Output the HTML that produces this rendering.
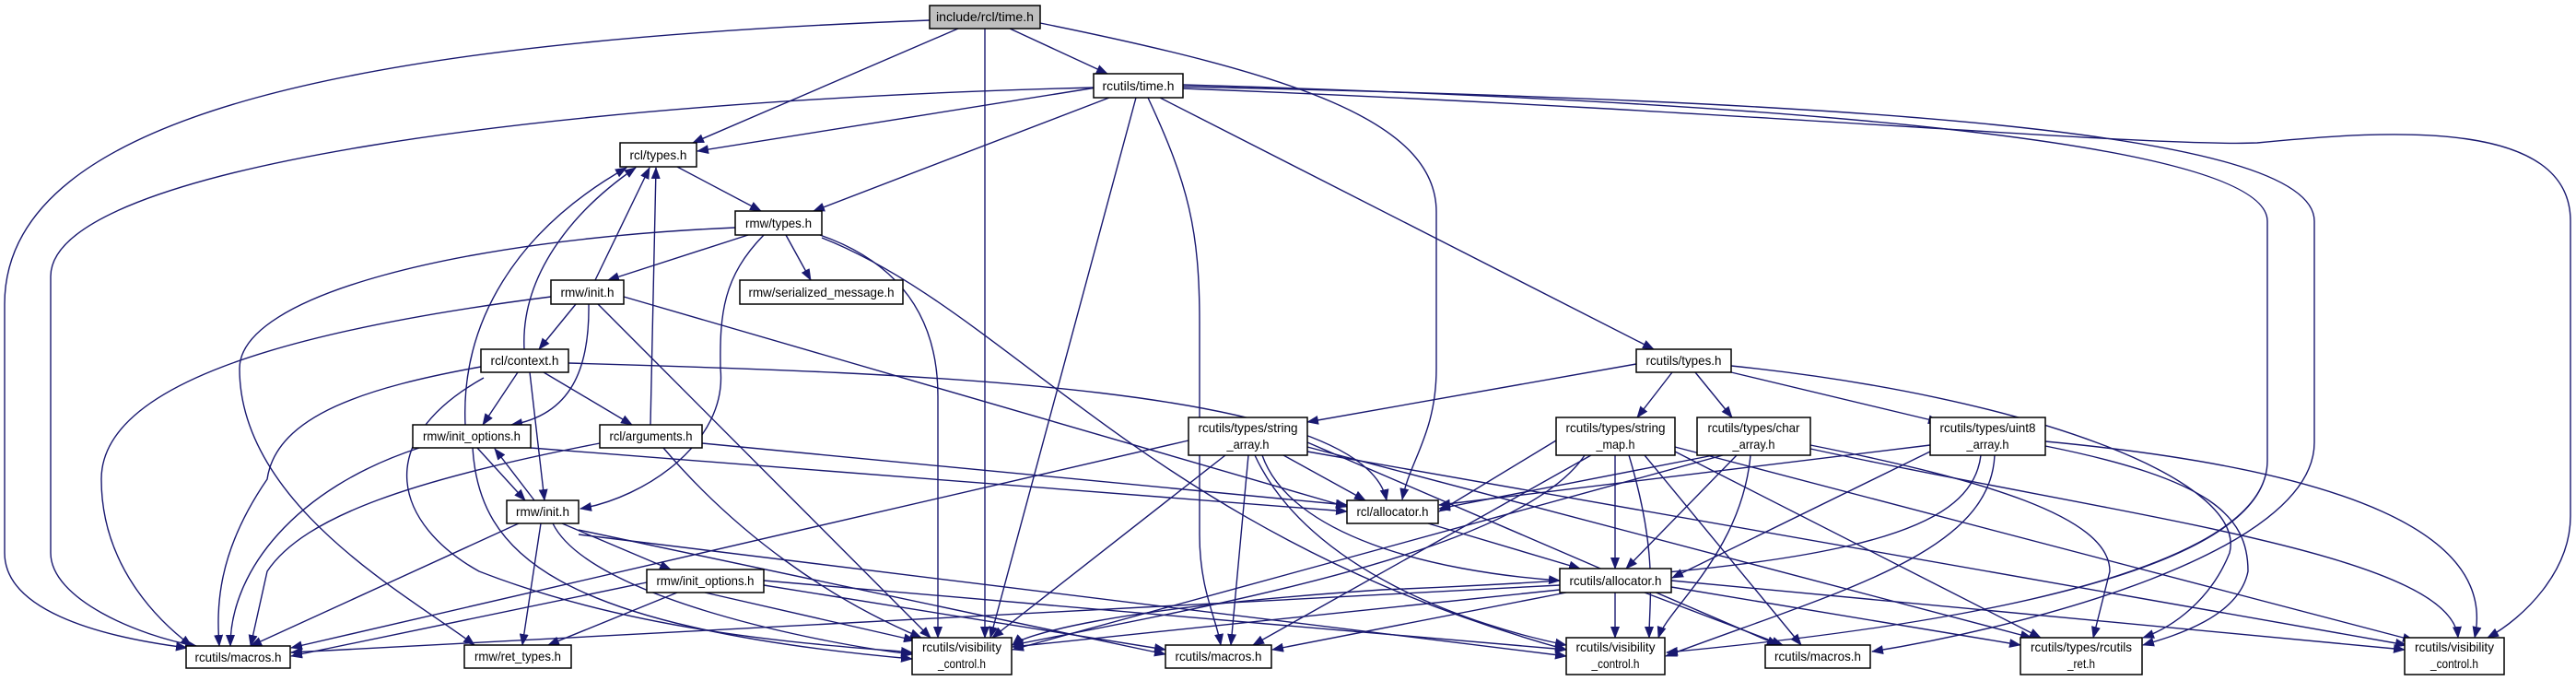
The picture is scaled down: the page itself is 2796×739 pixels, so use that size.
<!DOCTYPE html>
<html><head><meta charset="utf-8"><style>
html,body{margin:0;padding:0;background:#fff;}
svg{display:block;}
text{font-family:"Liberation Sans",sans-serif;font-size:14px;fill:#000;}
.e{fill:none;stroke:#191970;stroke-width:1.4;marker-end:url(#a);}
.n{fill:#fff;stroke:#000;stroke-width:1.5;}
</style></head><body>
<svg width="2796" height="739" viewBox="0 0 2796 739" xmlns="http://www.w3.org/2000/svg">
<defs><marker id="a" markerWidth="13" markerHeight="10" refX="12" refY="5" orient="auto" markerUnits="userSpaceOnUse"><path d="M0,0 L13,5 L0,10z" fill="#191970"/></marker></defs>
<g>
<path class="e" d="M1009,22 C400,45 5,120 5,330 L5,600 C5,660 100,690 203,703"/>
<path class="e" d="M1040,31 L752,155"/>
<path class="e" d="M1069,31 L1069,692"/>
<path class="e" d="M1096,31 L1202,80"/>
<path class="e" d="M1129,25 C1400,80 1559,130 1559,230 L1559,400 C1559,470 1530,500 1522,542"/>
<path class="e" d="M1187,95 C600,110 55,180 55,300 L55,600 C55,650 150,690 213,701"/>
<path class="e" d="M1190,95 L757,164"/>
<path class="e" d="M1204,106 L883,229"/>
<path class="e" d="M1233,106 L1075,692"/>
<path class="e" d="M1246,106 C1290,200 1302,250 1302,350 L1302,580 C1302,640 1320,670 1325,700"/>
<path class="e" d="M1259,106 L1795,379"/>
<path class="e" d="M1284,92 C1900,110 2461,150 2461,240 L2461,500 C2461,640 2000,690 1809,708"/>
<path class="e" d="M1284,94 C2000,110 2512,140 2512,240 L2512,480 C2512,600 2200,680 2032,707"/>
<path class="e" d="M1284,96 C1900,120 2330,160 2450,155 C2600,140 2790,130 2790,240 L2790,560 C2790,620 2740,670 2700,692"/>
<path class="e" d="M735,181 L826,229"/>
<path class="e" d="M812,255 L660,304"/>
<path class="e" d="M853,255 L880,304"/>
<path class="e" d="M798,247 C500,260 260,320 260,400 C260,550 450,650 515,700"/>
<path class="e" d="M829,255 C785,300 781,340 782,400 C790,480 700,540 630,552"/>
<path class="e" d="M890,255 C990,290 1018,360 1018,430 L1018,692"/>
<path class="e" d="M892,258 C1100,340 1250,580 1700,705"/>
<path class="e" d="M646,304 L705,182"/>
<path class="e" d="M625,330 L585,379"/>
<path class="e" d="M639,330 C640,400 620,450 555,461"/>
<path class="e" d="M598,322 C300,360 110,420 110,520 C110,620 180,680 208,701"/>
<path class="e" d="M677,322 L1462,550"/>
<path class="e" d="M649,330 L1010,692"/>
<path class="e" d="M569,379 C565,300 620,230 690,182"/>
<path class="e" d="M562,404 L524,461"/>
<path class="e" d="M575,404 L591,543"/>
<path class="e" d="M590,404 L686,461"/>
<path class="e" d="M522,398 C400,420 300,450 290,520 C235,600 235,660 238,701"/>
<path class="e" d="M525,410 C400,480 430,570 520,620 C700,690 900,700 990,708"/>
<path class="e" d="M617,394 C1000,405 1480,420 1505,543"/>
<path class="e" d="M505,461 C500,350 560,250 680,182"/>
<path class="e" d="M518,486 L570,543"/>
<path class="e" d="M455,486 C320,530 250,620 250,701"/>
<path class="e" d="M576,486 L1462,555"/>
<path class="e" d="M513,486 C520,600 600,680 990,715"/>
<path class="e" d="M706,461 L712,182"/>
<path class="e" d="M762,481 L1462,548"/>
<path class="e" d="M720,486 C800,580 900,650 1000,692"/>
<path class="e" d="M651,481 C450,520 330,560 290,620 L272,701"/>
<path class="e" d="M580,543 L537,487"/>
<path class="e" d="M610,568 L728,618"/>
<path class="e" d="M563,568 L272,701"/>
<path class="e" d="M587,568 L567,700"/>
<path class="e" d="M600,568 C640,650 900,700 990,710"/>
<path class="e" d="M628,575 L1265,710"/>
<path class="e" d="M628,580 L1700,712"/>
<path class="e" d="M702,632 L316,712"/>
<path class="e" d="M735,643 L595,700"/>
<path class="e" d="M765,643 L993,695"/>
<path class="e" d="M829,635 L1265,705"/>
<path class="e" d="M829,630 L1700,705"/>
<path class="e" d="M1776,395 L1419,458"/>
<path class="e" d="M1815,404 L1777,453"/>
<path class="e" d="M1840,404 L1880,453"/>
<path class="e" d="M1879,404 L2105,458"/>
<path class="e" d="M1879,397 C2200,430 2440,520 2420,600 C2400,650 2360,680 2326,692"/>
<path class="e" d="M1290,478 L316,703"/>
<path class="e" d="M1330,494 L1077,692"/>
<path class="e" d="M1355,494 L1336,700"/>
<path class="e" d="M1393,494 L1482,543"/>
<path class="e" d="M1370,494 C1400,580 1550,620 1693,630"/>
<path class="e" d="M1362,494 C1420,620 1600,680 1700,700"/>
<path class="e" d="M1419,480 L1930,700"/>
<path class="e" d="M1419,485 L2205,692"/>
<path class="e" d="M1419,490 L2612,700"/>
<path class="e" d="M1689,478 L1562,555"/>
<path class="e" d="M1753,494 L1753,617"/>
<path class="e" d="M1720,494 C1650,600 1300,660 1099,700"/>
<path class="e" d="M1727,494 L1360,700"/>
<path class="e" d="M1768,494 C1800,600 1790,650 1790,692"/>
<path class="e" d="M1785,494 L1955,700"/>
<path class="e" d="M1818,490 L2215,692"/>
<path class="e" d="M1818,485 L2620,695"/>
<path class="e" d="M1860,494 L1562,552"/>
<path class="e" d="M1885,494 L1765,617"/>
<path class="e" d="M1870,494 L1099,705"/>
<path class="e" d="M1900,494 C1890,600 1810,660 1800,692"/>
<path class="e" d="M1965,483 C2150,520 2290,560 2290,620 L2272,692"/>
<path class="e" d="M1965,487 C2300,560 2660,600 2668,692"/>
<path class="e" d="M2095,483 L1562,548"/>
<path class="e" d="M2095,490 L1815,627"/>
<path class="e" d="M2150,494 C2140,580 2000,620 1500,640 C1200,660 1110,690 1099,700"/>
<path class="e" d="M2165,494 C2160,600 2000,640 1808,712"/>
<path class="e" d="M2220,484 C2400,520 2440,560 2440,620 C2430,670 2360,690 2326,700"/>
<path class="e" d="M2220,479 C2550,510 2710,580 2686,692"/>
<path class="e" d="M1550,568 L1715,617"/>
<path class="e" d="M1693,635 L316,708"/>
<path class="e" d="M1693,640 L1099,702"/>
<path class="e" d="M1700,643 L1381,705"/>
<path class="e" d="M1753,643 L1753,692"/>
<path class="e" d="M1785,643 L1935,700"/>
<path class="e" d="M1814,637 L2193,700"/>
<path class="e" d="M1814,630 L2610,705"/>
</g>
<g>
<rect x="1009" y="6" width="120" height="25" fill="#bfbfbf" stroke="#000" stroke-width="1.5"/>
<text x="1069" y="23" text-anchor="middle" textLength="106" lengthAdjust="spacingAndGlyphs">include/rcl/time.h</text>
<rect class="n" x="1187" y="80" width="97" height="26"/><text x="1235.5" y="98" text-anchor="middle" textLength="78" lengthAdjust="spacingAndGlyphs">rcutils/time.h</text>
<rect class="n" x="673" y="155" width="83" height="26"/><text x="714.5" y="173" text-anchor="middle" textLength="62" lengthAdjust="spacingAndGlyphs">rcl/types.h</text>
<rect class="n" x="798" y="229" width="94" height="26"/><text x="845" y="247" text-anchor="middle" textLength="72" lengthAdjust="spacingAndGlyphs">rmw/types.h</text>
<rect class="n" x="598" y="304" width="79" height="26"/><text x="637.5" y="322" text-anchor="middle" textLength="58" lengthAdjust="spacingAndGlyphs">rmw/init.h</text>
<rect class="n" x="803" y="304" width="177" height="26"/><text x="891.5" y="322" text-anchor="middle" textLength="158" lengthAdjust="spacingAndGlyphs">rmw/serialized_message.h</text>
<rect class="n" x="522" y="379" width="95" height="25"/><text x="569.5" y="396" text-anchor="middle" textLength="74" lengthAdjust="spacingAndGlyphs">rcl/context.h</text>
<rect class="n" x="448" y="461" width="128" height="25"/><text x="512" y="478" text-anchor="middle" textLength="106" lengthAdjust="spacingAndGlyphs">rmw/init_options.h</text>
<rect class="n" x="651" y="461" width="111" height="25"/><text x="706.5" y="478" text-anchor="middle" textLength="90" lengthAdjust="spacingAndGlyphs">rcl/arguments.h</text>
<rect class="n" x="550" y="543" width="78" height="25"/><text x="589" y="560" text-anchor="middle" textLength="58" lengthAdjust="spacingAndGlyphs">rmw/init.h</text>
<rect class="n" x="702" y="618" width="127" height="25"/><text x="765.5" y="635" text-anchor="middle" textLength="106" lengthAdjust="spacingAndGlyphs">rmw/init_options.h</text>
<rect class="n" x="202" y="701" width="113" height="24"/><text x="258.5" y="718" text-anchor="middle" textLength="94" lengthAdjust="spacingAndGlyphs">rcutils/macros.h</text>
<rect class="n" x="504" y="700" width="116" height="25"/><text x="562" y="717" text-anchor="middle" textLength="94" lengthAdjust="spacingAndGlyphs">rmw/ret_types.h</text>
<rect class="n" x="990" y="692" width="108" height="40"/><text x="1044" y="707" text-anchor="middle" textLength="86" lengthAdjust="spacingAndGlyphs">rcutils/visibility</text><text x="1044" y="725" text-anchor="middle" textLength="52" lengthAdjust="spacingAndGlyphs">_control.h</text>
<rect class="n" x="1776" y="379" width="103" height="25"/><text x="1827.5" y="396" text-anchor="middle" textLength="82" lengthAdjust="spacingAndGlyphs">rcutils/types.h</text>
<rect class="n" x="1290" y="453" width="129" height="41"/><text x="1354.5" y="469" text-anchor="middle" textLength="108" lengthAdjust="spacingAndGlyphs">rcutils/types/string</text><text x="1354.5" y="487" text-anchor="middle" textLength="46" lengthAdjust="spacingAndGlyphs">_array.h</text>
<rect class="n" x="1689" y="453" width="129" height="41"/><text x="1753.5" y="469" text-anchor="middle" textLength="108" lengthAdjust="spacingAndGlyphs">rcutils/types/string</text><text x="1753.5" y="487" text-anchor="middle" textLength="42" lengthAdjust="spacingAndGlyphs">_map.h</text>
<rect class="n" x="1842" y="453" width="123" height="41"/><text x="1903.5" y="469" text-anchor="middle" textLength="100" lengthAdjust="spacingAndGlyphs">rcutils/types/char</text><text x="1903.5" y="487" text-anchor="middle" textLength="46" lengthAdjust="spacingAndGlyphs">_array.h</text>
<rect class="n" x="2095" y="453" width="125" height="41"/><text x="2157.5" y="469" text-anchor="middle" textLength="104" lengthAdjust="spacingAndGlyphs">rcutils/types/uint8</text><text x="2157.5" y="487" text-anchor="middle" textLength="46" lengthAdjust="spacingAndGlyphs">_array.h</text>
<rect class="n" x="1462" y="543" width="99" height="25"/><text x="1511.5" y="560" text-anchor="middle" textLength="78" lengthAdjust="spacingAndGlyphs">rcl/allocator.h</text>
<rect class="n" x="1693" y="617" width="121" height="26"/><text x="1753.5" y="635" text-anchor="middle" textLength="100" lengthAdjust="spacingAndGlyphs">rcutils/allocator.h</text>
<rect class="n" x="1265" y="700" width="115" height="25"/><text x="1322.5" y="717" text-anchor="middle" textLength="94" lengthAdjust="spacingAndGlyphs">rcutils/macros.h</text>
<rect class="n" x="1700" y="692" width="107" height="40"/><text x="1753.5" y="707" text-anchor="middle" textLength="86" lengthAdjust="spacingAndGlyphs">rcutils/visibility</text><text x="1753.5" y="725" text-anchor="middle" textLength="52" lengthAdjust="spacingAndGlyphs">_control.h</text>
<rect class="n" x="1916" y="700" width="114" height="25"/><text x="1973" y="717" text-anchor="middle" textLength="94" lengthAdjust="spacingAndGlyphs">rcutils/macros.h</text>
<rect class="n" x="2193" y="692" width="132" height="40"/><text x="2259" y="707" text-anchor="middle" textLength="110" lengthAdjust="spacingAndGlyphs">rcutils/types/rcutils</text><text x="2259" y="725" text-anchor="middle" textLength="30" lengthAdjust="spacingAndGlyphs">_ret.h</text>
<rect class="n" x="2610" y="692" width="108" height="40"/><text x="2664" y="707" text-anchor="middle" textLength="86" lengthAdjust="spacingAndGlyphs">rcutils/visibility</text><text x="2664" y="725" text-anchor="middle" textLength="52" lengthAdjust="spacingAndGlyphs">_control.h</text>
</g>
</svg>
</body></html>
